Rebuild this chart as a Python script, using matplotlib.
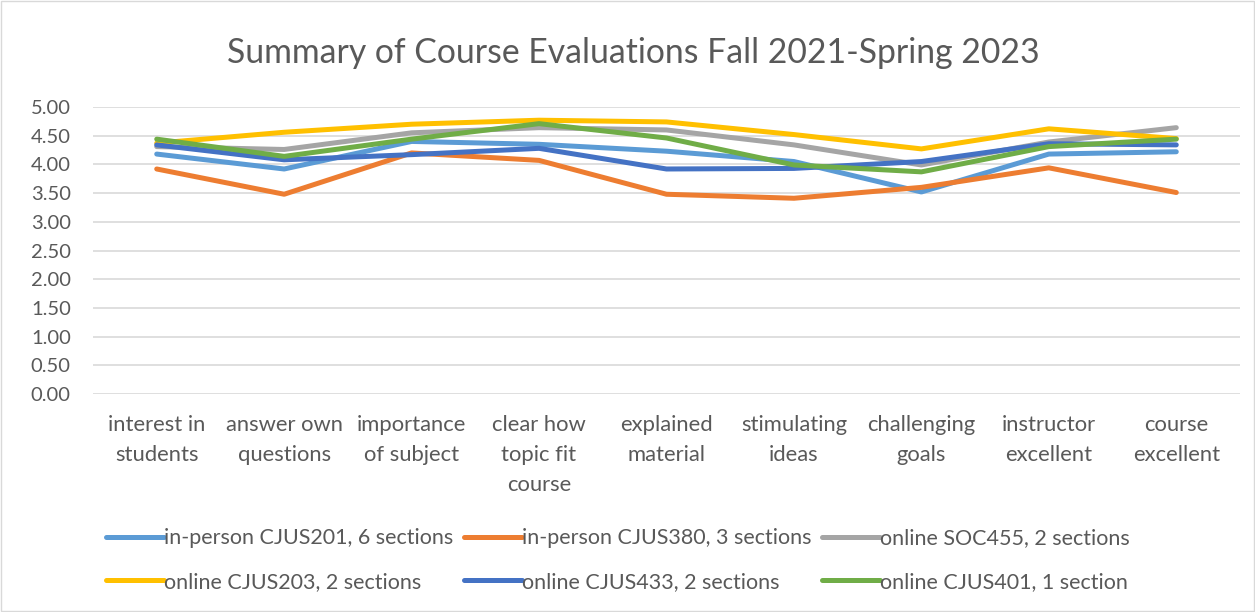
import matplotlib
matplotlib.use("Agg")
import matplotlib.pyplot as plt
from matplotlib.patches import Rectangle

categories = ["interest in\nstudents", "answer own\nquestions", "importance\nof subject",
              "clear how\ntopic fit\ncourse", "explained\nmaterial", "stimulating\nideas",
              "challenging\ngoals", "instructor\nexcellent", "course\nexcellent"]

cjus201 = [4.18, 3.92, 4.40, 4.35, 4.23, 4.05, 3.52, 4.18, 4.22]
cjus380 = [3.92, 3.48, 4.20, 4.07, 3.48, 3.41, 3.60, 3.94, 3.51]
soc455 = [4.31, 4.26, 4.55, 4.64, 4.60, 4.34, 3.99, 4.39, 4.64]
cjus203 = [4.37, 4.56, 4.70, 4.77, 4.74, 4.52, 4.27, 4.62, 4.45]
cjus433 = [4.34, 4.08, 4.17, 4.28, 3.92, 3.93, 4.05, 4.36, 4.34]
cjus401 = [4.44, 4.14, 4.44, 4.71, 4.46, 3.99, 3.87, 4.31, 4.44]

series = [
    ("in-person CJUS201, 6 sections", cjus201, "#5B9BD5"),
    ("in-person CJUS380, 3 sections", cjus380, "#ED7D31"),
    ("online SOC455, 2 sections", soc455, "#A5A5A5"),
    ("online CJUS203, 2 sections", cjus203, "#FFC000"),
    ("online CJUS433, 2 sections", cjus433, "#4472C4"),
    ("online CJUS401, 1 section", cjus401, "#70AD47"),
]

yticks = [0.0, 0.5, 1.0, 1.5, 2.0, 2.5, 3.0, 3.5, 4.0, 4.5, 5.0]

plt.rcParams['font.family'] = ['Lato', 'DejaVu Sans']

fig = plt.figure(figsize=(12.55, 6.12), dpi=100)
ax = fig.add_axes([93/1255, 1-394/612, (1240-93)/1255, (394-107)/612])

handles = []
x = list(range(len(categories)))
for label, vals, color in series:
    h, = ax.plot(x, vals, color=color, lw=3.6, label=label, solid_capstyle='round',
                 solid_joinstyle='round', zorder=3)
    handles.append(h)

ax.set_xlim(-0.5, len(categories) - 0.5)
ax.set_ylim(0, 5)
ax.set_yticks(yticks)
ax.set_yticklabels([f"{v:.2f}" for v in yticks], fontsize=14.5, color="#595959")
ax.set_xticks(x)
ax.set_xticklabels(categories, fontsize=15.8, color="#595959", linespacing=1.62, va='top')
ax.tick_params(axis='both', length=0)
ax.tick_params(axis='y', pad=16)
ax.tick_params(axis='x', pad=15)
ax.grid(axis='y', color="#d9d9d9", lw=1.2, zorder=0)
for s in ax.spines.values():
    s.set_visible(False)

fig.text(633/1255, 1-53/612, "Summary of Course Evaluations Fall 2021-Spring 2023",
         ha='center', va='center', fontsize=24.3, color="#595959")

order = [0, 3, 1, 4, 2, 5]
leg = fig.legend([handles[i] for i in order], [series[i][0] for i in order], ncol=3,
                 loc='center', bbox_to_anchor=(618/1255, 1-560/612), frameon=False,
                 fontsize=15.5, handlelength=2.7, handletextpad=0.0, columnspacing=0.5,
                 labelspacing=1.1, labelcolor="#595959")

fig.patches.append(Rectangle((1/1255, 1/612), 1-2/1255, 1-2/612, transform=fig.transFigure,
                             fill=False, edgecolor="#d9d9d9", lw=1.0))

fig.savefig("out.png", dpi=100, facecolor="white")
